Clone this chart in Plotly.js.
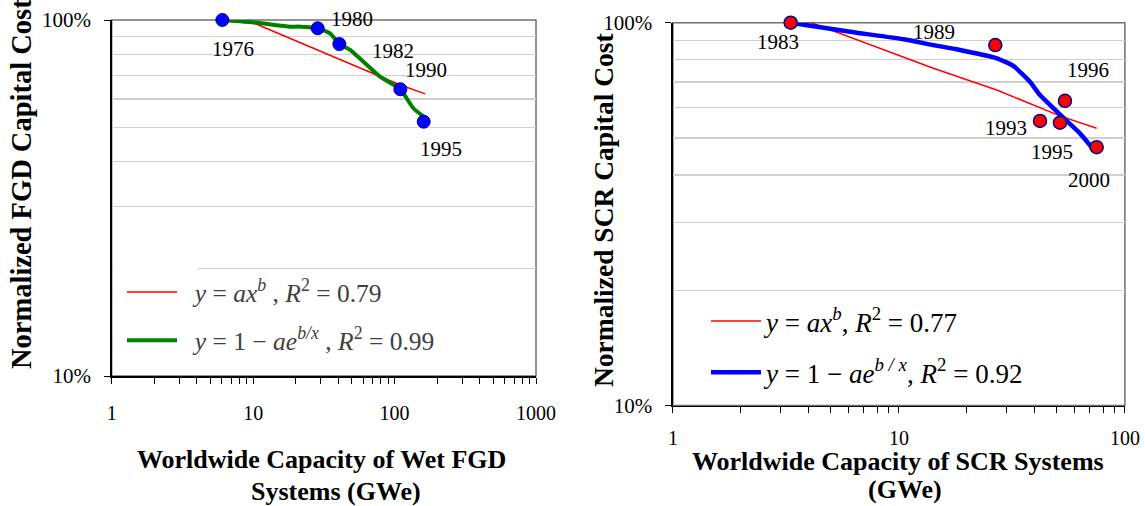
<!DOCTYPE html>
<html><head><meta charset="utf-8">
<script src="https://cdn.plot.ly/plotly-3.0.1.min.js"></script>
<style>html,body{margin:0;padding:0;background:#fff}</style>
</head><body>
<div id="chart" style="width:1145px;height:506px"></div>
<script>
// ---- Left chart: Wet FGD ----
const fgdYears = ['1976', '1980', '1982', '1990', '1995'];
const fgdCapacity = [6.06, 28.6, 40.7, 109.9, 160.7];
const fgdCost = [1.00, 0.948, 0.856, 0.639, 0.518];
const fgdPowerFitX = [6.68, 28.6, 40.7, 109.9, 164.4];
const fgdPowerFitY = [1.051, 0.821, 0.776, 0.657, 0.620];
const fgdExpFitX = [6.06, 10.6, 18.2, 21.5, 28.6, 35.0, 40.7, 48.5, 78.9, 109.9, 135.8, 160.7];
const fgdExpFitY = [1.00, 0.983, 0.958, 0.958, 0.948, 0.917, 0.856, 0.824, 0.693, 0.639, 0.565, 0.535];
const fgdLegend = ['\u00a0\u00a0<i>y</i> = <i>ax<sup>b</sup></i> , <i>R</i><sup>2</sup> = 0.79',
                   '\u00a0\u00a0<i>y</i> = 1 \u2212 <i>ae<sup>b/x</sup></i> , <i>R</i><sup>2</sup> = 0.99'];

// ---- Right chart: SCR ----
const scrYears = ['1983', '1989', '1993', '1995', '1996', '2000'];
const scrCapacity = [3.32, 26.7, 42.1, 51.6, 54.3, 75.0];
const scrCost = [1.00, 0.874, 0.554, 0.548, 0.625, 0.473];
const scrPowerFitX = [3.41, 14.2, 27.1, 40.7, 51.9, 75.0];
const scrPowerFitY = [1.041, 0.760, 0.667, 0.606, 0.570, 0.530];
const scrExpFitX = [3.32, 6.08, 10.5, 14.2, 18.0, 27.1, 32.1, 38.0, 42.1, 52.5, 63.3, 73.5];
const scrExpFitY = [1.00, 0.947, 0.905, 0.874, 0.852, 0.807, 0.771, 0.701, 0.647, 0.570, 0.514, 0.462];
const scrLegend = ['<i>y</i> = <i>ax<sup>b</sup></i>, <i>R</i><sup>2</sup> = 0.77',
                   '<i>y</i> = 1 \u2212 <i>ae<sup>b / x</sup></i>, <i>R</i><sup>2</sup> = 0.92'];

// ---- Axis ticks ----
const fgdXTickVals = [1, 10, 100, 1000];
const fgdXTickText = ['1', '10', '100', '1000'];
const scrXTickVals = [1, 10, 100];
const scrXTickText = ['1', '10', '100'];
const yTickVals = [0.1, 1];
const yTickText = ['10%', '100%'];
const xMinorVals = [2,3,4,5,6,7,8,9,20,30,40,50,60,70,80,90,200,300,400,500,600,700,800,900];
const yMinorVals = [0.2,0.3,0.4,0.5,0.6,0.7,0.8,0.9];

// label offsets (px) for year annotations
const fgdLabelDX = [11, 34, 54, 26, 17];
const fgdLabelDY = [-29, 9, -7, 19, -27];
const scrLabelDX = [-13, -61, -34, -8, 23, -8];
const scrLabelDY = [-19, 13, -7, -29, 31, -33];

const FONT = '"Liberation Serif", "Times New Roman", Times, serif';
const W = 1145, H = 506;
const L = {x0: 111.7, x1: 536, y0: 20, y1: 376};
const R = {x0: 672.9, x1: 1124.9, y0: 22.7, y1: 405.5};

function axX(dom, range, tv, tt, anchor, standoff) {
  return {
    type: 'log', domain: [dom.x0 / W, dom.x1 / W], range: range, anchor: anchor,
    showline: true, linecolor: '#000', linewidth: 1.5,
    ticks: 'outside', ticklen: 6, tickwidth: 1, tickcolor: '#000',
    tickmode: 'array', tickvals: tv, ticktext: tt,
    tickfont: {family: FONT, size: 20, color: '#000'},
    ticklabelstandoff: standoff,
    showgrid: false, zeroline: false, fixedrange: true,
    minor: {tickmode: 'array', tickvals: xMinorVals, ticks: 'outside', ticklen: 6, tickwidth: 1, tickcolor: '#000', showgrid: false}
  };
}
function axY(dom, anchor) {
  return {
    type: 'log', domain: [1 - dom.y1 / H, 1 - dom.y0 / H], range: [-1, 0], anchor: anchor,
    showline: true, linecolor: '#000', linewidth: 1.5,
    ticks: 'outside', ticklen: 6, tickwidth: 1, tickcolor: '#000',
    tickmode: 'array', tickvals: yTickVals, ticktext: yTickText,
    tickfont: {family: FONT, size: 21, color: '#000'},
    ticklabelstandoff: 9,
    showgrid: false, zeroline: false, fixedrange: true,
    minor: {tickmode: 'array', tickvals: yMinorVals, ticks: '', showgrid: true, gridcolor: '#cfcfcf', gridwidth: 1.2}
  };
}

const traces = [
  {x: fgdPowerFitX, y: fgdPowerFitY, xaxis: 'x', yaxis: 'y', mode: 'lines', name: fgdLegend[0],
   line: {color: '#ff0000', width: 1.5}, cliponaxis: false, legend: 'legend', legendgroup: 'a'},
  {x: fgdExpFitX, y: fgdExpFitY, xaxis: 'x', yaxis: 'y', mode: 'lines', name: fgdLegend[1],
   line: {color: '#008000', width: 4, shape: 'spline', smoothing: 0.5}, cliponaxis: false, legend: 'legend', legendgroup: 'b'},
  {x: fgdCapacity, y: fgdCost, xaxis: 'x', yaxis: 'y', mode: 'markers', showlegend: false,
   marker: {color: '#0000ff', size: 13, line: {color: '#000080', width: 1}}, cliponaxis: false},
  {x: scrPowerFitX, y: scrPowerFitY, xaxis: 'x2', yaxis: 'y2', mode: 'lines', name: scrLegend[0],
   line: {color: '#ff0000', width: 1.5}, cliponaxis: false, legend: 'legend2', legendgroup: 'c'},
  {x: scrExpFitX, y: scrExpFitY, xaxis: 'x2', yaxis: 'y2', mode: 'lines', name: scrLegend[1],
   line: {color: '#0000ff', width: 4.5, shape: 'spline', smoothing: 0.5}, cliponaxis: false, legend: 'legend2', legendgroup: 'd'},
  {x: scrCapacity, y: scrCost, xaxis: 'x2', yaxis: 'y2', mode: 'markers', showlegend: false,
   marker: {color: '#ff0000', size: 13, line: {color: '#000080', width: 1.5}}, cliponaxis: false}
];

const annotations = [];
fgdYears.forEach((t, i) => annotations.push({
  text: t, xref: 'x', yref: 'y', x: Math.log10(fgdCapacity[i]), y: Math.log10(fgdCost[i]),
  xshift: fgdLabelDX[i], yshift: fgdLabelDY[i], showarrow: false,
  font: {family: FONT, size: 21, color: '#000'}
}));
scrYears.forEach((t, i) => annotations.push({
  text: t, xref: 'x2', yref: 'y2', x: Math.log10(scrCapacity[i]), y: Math.log10(scrCost[i]),
  xshift: scrLabelDX[i], yshift: scrLabelDY[i], showarrow: false,
  font: {family: FONT, size: 21, color: '#000'}
}));
function pAnn(text, px, py, angle, size) {
  return {text: '<b>' + text + '</b>', xref: 'paper', yref: 'paper', x: px / W, y: 1 - py / H,
    xanchor: 'center', yanchor: 'middle', showarrow: false, textangle: angle || 0,
    font: {family: FONT, size: size || 26, color: '#000'}};
}
annotations.push(pAnn('Worldwide Capacity of Wet FGD', 321, 459));
annotations.push(pAnn('Systems (GWe)', 336, 491));
annotations.push(pAnn('Worldwide Capacity of SCR Systems', 898, 461));
annotations.push(pAnn('(GWe)', 905, 489));
annotations.push(pAnn('Normalized FGD Capital Cost', 21, 184, -90, 28.5));
annotations.push(pAnn('Normalized SCR Capital Cost', 603, 210, -90, 27.5));

const shapes = [
  {type: 'rect', xref: 'x domain', yref: 'y domain', x0: 0, x1: 1, y0: 0, y1: 1,
   line: {color: '#707070', width: 1.5}, layer: 'below'},
  {type: 'rect', xref: 'x2 domain', yref: 'y2 domain', x0: 0, x1: 1, y0: 0, y1: 1,
   line: {color: '#707070', width: 1.5}, layer: 'below'},
  {type: 'rect', xref: 'x domain', yref: 'y domain', x0: 0.006, x1: 0.2027, y0: 0.25, y1: 0.35,
   fillcolor: '#ffffff', line: {width: 0}, layer: 'above'}
];

const layout = {
  width: W, height: H, margin: {l: 0, r: 0, t: 0, b: 0},
  paper_bgcolor: '#fff', plot_bgcolor: 'rgba(0,0,0,0)',
  font: {family: FONT},
  xaxis: axX(L, [0, 3], fgdXTickVals, fgdXTickText, 'y', 12),
  yaxis: axY(L, 'x'),
  xaxis2: axX(R, [0, 2], scrXTickVals, scrXTickText, 'y2', 8),
  yaxis2: axY(R, 'x2'),
  legend: {x: 122 / W, y: 1 - 269 / H, xanchor: 'left', yanchor: 'top', bgcolor: 'rgba(0,0,0,0)',
    font: {family: FONT, size: 25.5, color: '#404040'}, itemwidth: 50, tracegroupgap: 12, traceorder: 'grouped'},
  legend2: {x: 706 / W, y: 1 - 297 / H, xanchor: 'left', yanchor: 'top', bgcolor: 'rgba(0,0,0,0)',
    font: {family: FONT, size: 27, color: '#000'}, itemwidth: 50, tracegroupgap: 13, traceorder: 'grouped'},
  annotations: annotations, shapes: shapes, showlegend: true
};

Plotly.newPlot('chart', traces, layout, {staticPlot: true, displayModeBar: false});
</script>
</body></html>
